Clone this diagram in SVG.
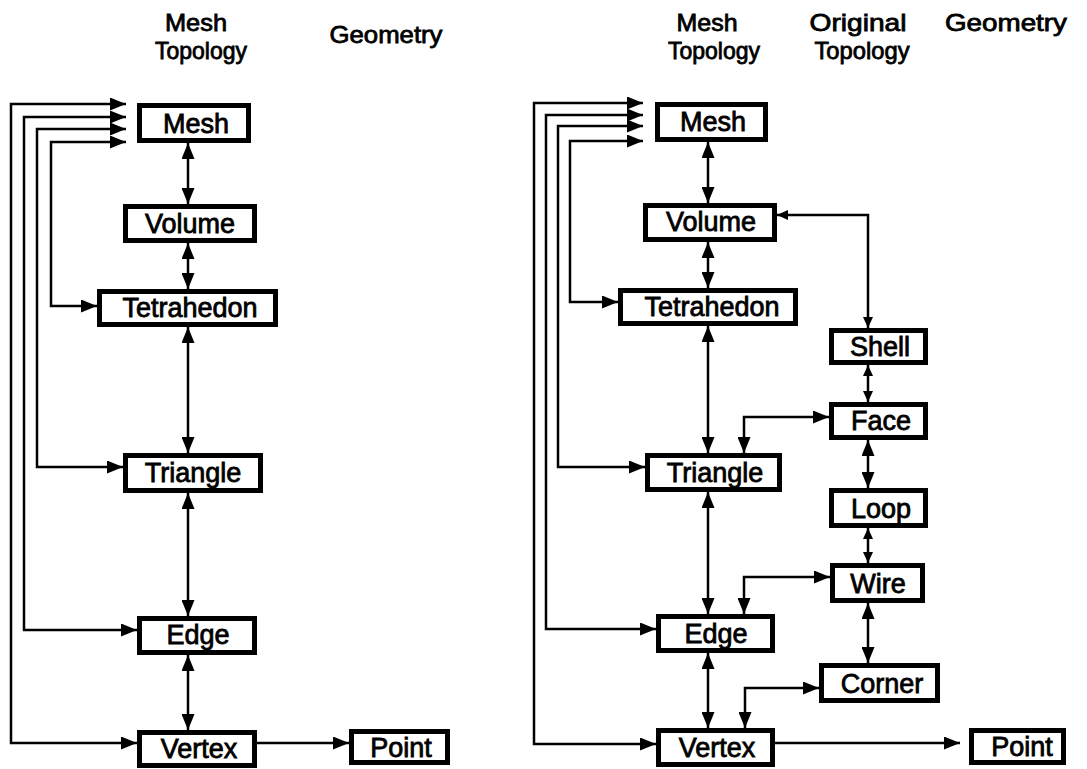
<svg xmlns="http://www.w3.org/2000/svg" width="1087" height="769" viewBox="0 0 1087 769">
<style>
.bx{fill:#fff;stroke:#000;stroke-width:5}
.lb{font-family:"Liberation Sans",Arial,sans-serif;font-size:27px;fill:#000;stroke:#000;stroke-width:0.8;text-anchor:middle}
.hd{font-family:"Liberation Sans",Arial,sans-serif;font-size:24px;fill:#000;stroke:#000;stroke-width:0.8;text-anchor:middle}
.c{fill:none;stroke:#000;stroke-width:2.5}
.d{marker-start:url(#ah);marker-end:url(#ah)}
.e{marker-end:url(#ah)}
.s{marker-start:url(#as);marker-end:url(#as)}
</style>
<defs>
<marker id="ah" markerUnits="userSpaceOnUse" markerWidth="16" markerHeight="13" refX="16" refY="6.5" orient="auto-start-reverse" viewBox="0 0 16 13"><path d="M0,0 L16,6.5 L0,13 z" fill="#000"/></marker>
<marker id="as" markerUnits="userSpaceOnUse" markerWidth="11" markerHeight="10" refX="11" refY="5" orient="auto-start-reverse" viewBox="0 0 11 10"><path d="M0,0 L11,5 L0,10 z" fill="#000"/></marker>
</defs>
<rect width="1087" height="769" fill="#fff"/>
<g id="headers">
<text class="hd" x="196" y="31" textLength="62" lengthAdjust="spacingAndGlyphs">Mesh</text>
<text class="hd" x="201" y="59" textLength="92" lengthAdjust="spacingAndGlyphs">Topology</text>
<text class="hd" x="386" y="43" textLength="113" lengthAdjust="spacingAndGlyphs">Geometry</text>
<text class="hd" x="707" y="31" textLength="61" lengthAdjust="spacingAndGlyphs">Mesh</text>
<text class="hd" x="714" y="59" textLength="92" lengthAdjust="spacingAndGlyphs">Topology</text>
<text class="hd" x="858" y="31" textLength="97" lengthAdjust="spacingAndGlyphs">Original</text>
<text class="hd" x="862" y="59" textLength="95" lengthAdjust="spacingAndGlyphs">Topology</text>
<text class="hd" x="1006" y="31" textLength="122" lengthAdjust="spacingAndGlyphs">Geometry</text>
</g>
<g id="connectors">
<path class="c d" d="M126,104 H11 V743 H137"/>
<path class="c d" d="M126,117 H24 V630 H137"/>
<path class="c d" d="M126,129 H37 V467 H123"/>
<path class="c d" d="M126,142 H51 V306 H97"/>
<path class="c d" d="M188,143 V204"/>
<path class="c d" d="M188,243 V289"/>
<path class="c d" d="M188,327 V453"/>
<path class="c d" d="M188,493 V616"/>
<path class="c d" d="M188,655 V730"/>
<path class="c e" d="M257,743 H349"/>
<path class="c d" d="M643,103 H534 V744 H656"/>
<path class="c d" d="M643,115 H546 V629 H656"/>
<path class="c d" d="M643,126 H558 V467 H645"/>
<path class="c d" d="M643,141 H570 V302 H618"/>
<path class="c d" d="M708,142 V203"/>
<path class="c d" d="M708,242 V288"/>
<path class="c d" d="M708,326 V453"/>
<path class="c d" d="M708,492 V614"/>
<path class="c d" d="M708,653 V728"/>
<path class="c e" d="M775,743 H960"/>
<path class="c s" d="M777,215 H868 V328"/>
<path class="c s" d="M868,365 V402"/>
<path class="c d" d="M868,440 V488"/>
<path class="c s" d="M868,528 V563"/>
<path class="c d" d="M868,603 V663"/>
<path class="c d" d="M829,417 H744 V453"/>
<path class="c d" d="M830,577 H744 V614"/>
<path class="c d" d="M819,688 H745 V728"/>
</g>
<g id="L-mesh"><rect class="bx" x="139.5" y="105.5" width="109" height="35"/><text class="lb" x="196" y="133">Mesh</text></g>
<g id="L-volume"><rect class="bx" x="125.5" y="206.5" width="129" height="34"/><text class="lb" x="190" y="233">Volume</text></g>
<g id="L-tetrahedon"><rect class="bx" x="99.5" y="291.5" width="176" height="33"/><text class="lb" x="190" y="317">Tetrahedon</text></g>
<g id="L-triangle"><rect class="bx" x="125.5" y="455.5" width="135" height="35"/><text class="lb" x="193" y="482">Triangle</text></g>
<g id="L-edge"><rect class="bx" x="139.5" y="618.5" width="115" height="34"/><text class="lb" x="198" y="644">Edge</text></g>
<g id="L-vertex"><rect class="bx" x="139.5" y="732.5" width="115" height="33"/><text class="lb" x="199" y="758">Vertex</text></g>
<g id="L-point"><rect class="bx" x="351.5" y="731.5" width="96" height="31"/><text class="lb" x="401" y="757">Point</text></g>
<g id="R-mesh"><rect class="bx" x="657.5" y="104.5" width="108" height="35"/><text class="lb" x="713" y="131">Mesh</text></g>
<g id="R-volume"><rect class="bx" x="645.5" y="205.5" width="129" height="34"/><text class="lb" x="711" y="231">Volume</text></g>
<g id="R-tetrahedon"><rect class="bx" x="620.5" y="290.5" width="175" height="33"/><text class="lb" x="712" y="316">Tetrahedon</text></g>
<g id="R-shell"><rect class="bx" x="831.5" y="330.5" width="94" height="32"/><text class="lb" x="880" y="356">Shell</text></g>
<g id="R-face"><rect class="bx" x="831.5" y="404.5" width="94" height="33"/><text class="lb" x="881" y="430">Face</text></g>
<g id="R-triangle"><rect class="bx" x="647.5" y="455.5" width="132" height="34"/><text class="lb" x="715" y="482">Triangle</text></g>
<g id="R-loop"><rect class="bx" x="831.5" y="490.5" width="94" height="35"/><text class="lb" x="881" y="518">Loop</text></g>
<g id="R-wire"><rect class="bx" x="832.5" y="565.5" width="90" height="35"/><text class="lb" x="878" y="593">Wire</text></g>
<g id="R-edge"><rect class="bx" x="658.5" y="616.5" width="114" height="34"/><text class="lb" x="716" y="643">Edge</text></g>
<g id="R-corner"><rect class="bx" x="821.5" y="665.5" width="116" height="35"/><text class="lb" x="882" y="693">Corner</text></g>
<g id="R-vertex"><rect class="bx" x="658.5" y="730.5" width="114" height="34"/><text class="lb" x="717" y="757">Vertex</text></g>
<g id="R-point"><rect class="bx" x="971.5" y="730.5" width="92" height="32"/><text class="lb" x="1022" y="756">Point</text></g>
</svg>
